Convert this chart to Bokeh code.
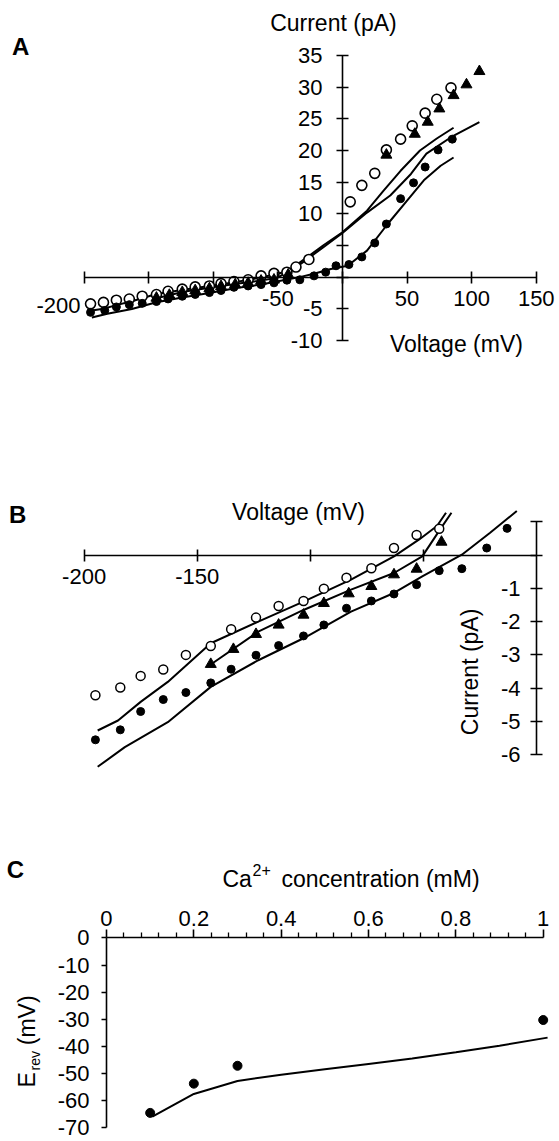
from bokeh.plotting import figure
from bokeh.models import LinearAxis, FixedTicker, Range1d, Label
from bokeh.layouts import column
from bokeh.embed import file_html
from bokeh.resources import INLINE
import math

FONT = "Liberation Sans"

# ---------------- Panel A data ----------------
a_open_v = [-195, -185, -175, -165, -155, -144, -135, -124, -114, -103, -94, -84, -73, -63, -53, -43, -36, -26,
            6, 15, 25, 34, 45, 54, 64, 73, 84]
a_open_i = [-4.21, -3.98, -3.63, -3.44, -3.00, -2.73, -2.23, -1.88, -1.53, -1.38, -1.01, -0.68, -0.40, 0.21, 0.60, 0.79, 1.6, 2.8,
            11.9, 14.5, 16.4, 20.1, 21.8, 23.9, 25.9, 28.1, 29.9]
a_tri_v = [-144, -134, -124, -114, -103, -94, -83, -73, -63, -53, -42, 34, 56, 66, 75, 86, 96, 106]
a_tri_i = [-3.28, -2.83, -2.38, -2.10, -1.80, -1.45, -1.16, -0.94, -0.59, -0.42, 0.39, 19.3, 22.6, 24.5, 26.6, 28.7, 30.4, 32.5]
a_fill_v = [-195, -184, -175, -165, -155, -144, -135, -124, -114, -103, -94, -84, -73, -63, -53, -43, -33, -22, -13,
            -5, 5, 15, 25, 34, 45, 55, 64, 74, 85]
a_fill_i = [-5.55, -5.25, -4.70, -4.34, -4.13, -3.84, -3.43, -3.01, -2.72, -2.43, -2.10, -1.60, -1.38, -1.17, -0.89, -0.47, -0.41, 0.21, 0.80,
            1.8, 2.0, 3.2, 5.4, 8.4, 12.4, 14.9, 17.4, 20.1, 21.8]
a_l1_v = [-194, -185, -175, -163, -144, -123, -103, -82, -63, -52, -44, -40, -27, -15, 0, 19, 32, 45, 60, 73, 86]
a_l1_i = [-5.27, -4.97, -4.41, -3.81, -2.65, -2.00, -1.40, -0.74, -0.04, 0.46, 0.87, 1.27, 3.2, 5.0, 7.1, 10.5, 13.7, 16.8, 20.0, 21.9, 23.6]
a_l2_v = [-144, -123, -103, -82, -63, -50, -43, -38, -27, -15, 0, 19, 37, 53, 65, 84, 106]
a_l2_i = [-3.31, -2.30, -1.65, -1.04, -0.54, -0.04, 0.77, 1.27, 2.9, 4.7, 7.0, 10.2, 12.9, 16.3, 19.5, 22.1, 24.5]
a_l3_v = [-194, -182, -163, -144, -123, -103, -82, -63, -50, -33, -20, -9, 4, 19, 35, 50, 63, 76, 86]
a_l3_i = [-6.36, -5.77, -5.02, -3.96, -3.16, -2.50, -1.70, -1.14, -0.64, 0.01, 0.67, 1.3, 1.8, 4.2, 8.4, 12.1, 15.3, 17.6, 18.9]

a_x_ticks = [-200, -150, -100, -50, 0, 50, 100, 150]
a_x_labels = ["", "", "", "-50", "", "50", "100", "150"]
a_y_ticks = [-10, -5, 0, 5, 10, 15, 20, 25, 30, 35]
a_y_labels = ["-10", "-5", "", "", "10", "15", "20", "25", "30", "35"]

# ---------------- Panel B data ----------------
b_open_v = [-195, -184, -175, -165, -155, -144, -135, -124, -114, -103, -94, -84, -73, -63, -53, -43]
b_open_i = [-4.21, -3.98, -3.63, -3.44, -3.00, -2.73, -2.23, -1.88, -1.53, -1.38, -1.01, -0.68, -0.40, 0.21, 0.60, 0.79]
b_tri_v = [-144, -134, -124, -114, -103, -94, -83, -73, -63, -53, -42]
b_tri_i = [-3.28, -2.83, -2.38, -2.10, -1.80, -1.45, -1.16, -0.94, -0.59, -0.42, 0.39]
b_fill_v = [-195, -184, -175, -165, -155, -144, -135, -124, -114, -103, -94, -84, -73, -63, -53, -43, -33, -22, -13]
b_fill_i = [-5.55, -5.25, -4.70, -4.34, -4.13, -3.84, -3.43, -3.01, -2.72, -2.43, -2.10, -1.60, -1.38, -1.17, -0.89, -0.47, -0.41, 0.21, 0.80]
b_l1_v = [-194, -185, -175, -163, -144, -123, -103, -82, -63, -52, -44, -40]
b_l1_i = [-5.27, -4.97, -4.41, -3.81, -2.65, -2.00, -1.40, -0.74, -0.04, 0.46, 0.87, 1.27]
b_l2_v = [-144.5, -123, -103, -82, -63, -50.5, -42.6, -37.6]
b_l2_i = [-3.31, -2.30, -1.65, -1.04, -0.54, -0.04, 0.77, 1.27]
b_l3_v = [-194, -182, -163, -144, -123, -103, -82, -63, -50.5, -33, -20.5, -8.7]
b_l3_i = [-6.36, -5.77, -5.02, -3.96, -3.16, -2.50, -1.70, -1.14, -0.64, 0.01, 0.67, 1.32]

b_x_ticks = [-200, -150, -100, -50]
b_x_labels = ["-200", "-150", "", ""]
b_y_ticks = [-6, -5, -4, -3, -2, -1, 0, 1]
b_y_labels = ["-6", "-5", "-4", "-3", "-2", "-1", "", ""]

# ---------------- Panel C data ----------------
c_conc = [0.1, 0.2, 0.3, 1.0]
c_erev = [-64.6, -53.8, -47.2, -30.3]
c_fit_conc = [0.105, 0.2, 0.3, 0.4, 0.5, 0.6, 0.7, 0.8, 0.9, 1.01]
c_fit_erev = [-66.0, -57.6, -52.8, -50.5, -48.5, -46.5, -44.5, -42.2, -39.8, -36.8]

c_x_ticks = [0, 0.2, 0.4, 0.6, 0.8, 1.0]
c_x_labels = ["0", "0.2", "0.4", "0.6", "0.8", "1"]
c_x_minor = [0.04, 0.08, 0.12, 0.16, 0.24, 0.28, 0.32, 0.36, 0.44, 0.48, 0.52, 0.56,
             0.64, 0.68, 0.72, 0.76, 0.84, 0.88, 0.92, 0.96]
c_y_ticks = [-70, -60, -50, -40, -30, -20, -10, 0]
c_y_labels = ["-70", "-60", "-50", "-40", "-30", "-20", "-10", "0"]


def overrides(ticks, labels):
    d = {}
    for t, l in zip(ticks, labels):
        t = float(t)
        d[t] = l
        s = str(int(t)) if t.is_integer() else repr(t)
        d[s] = l
    return d


def make_fig(h, xr, yr):
    p = figure(width=559, height=h, x_range=Range1d(*xr), y_range=Range1d(*yr),
               output_backend="svg", toolbar_location=None, x_axis_type=None, y_axis_type=None,
               min_border=0, outline_line_color=None)
    p.background_fill_color = "white"
    p.border_fill_color = "white"
    return p


def make_axis(ticks, labels, bounds, tin, tout, standoff, minor=None, minor_out=0):
    ax = LinearAxis(fixed_location=0,
                    ticker=FixedTicker(ticks=ticks, minor_ticks=minor or []),
                    bounds=bounds,
                    major_tick_in=tin, major_tick_out=tout,
                    minor_tick_in=0, minor_tick_out=minor_out,
                    major_label_standoff=standoff,
                    major_label_overrides=overrides(ticks, labels),
                    axis_line_width=1.6, axis_line_color="black",
                    major_tick_line_width=1.6, major_tick_line_color="black",
                    minor_tick_line_width=1.3, minor_tick_line_color="black",
                    major_label_text_font=FONT, major_label_text_font_size="22px",
                    major_label_text_color="black")
    return ax


def lab(p, x, y, text, size="23px", align="center", baseline="middle", angle=0.0, bold=False):
    p.add_layout(Label(x=x, y=y, text=text, text_font=FONT, text_font_size=size,
                       text_align=align, text_baseline=baseline, angle=angle,
                       text_font_style="bold" if bold else "normal", text_color="black"))


# ================= Panel A =================
pa = make_fig(400, (-264.7, 168.0), (-19.47, 43.69))
pa.add_layout(make_axis(a_x_ticks, a_x_labels, (-200, 150), 6, 6, 8), "below")
pa.add_layout(make_axis(a_y_ticks, a_y_labels, (-10, 35), 6, 6, 14), "left")
for v, i in ((a_l1_v, a_l1_i), (a_l2_v, a_l2_i), (a_l3_v, a_l3_i)):
    pa.line(v, i, line_color="black", line_width=2)
pa.scatter(a_open_v, a_open_i, marker="circle", size=10, fill_color="white", line_color="black", line_width=1.6)
pa.scatter(a_tri_v, a_tri_i, marker="triangle", size=11, fill_color="black", line_color="black")
pa.scatter(a_fill_v, a_fill_i, marker="circle", size=8, fill_color="black", line_color="black")
lab(pa, -249, 36.5, "A", size="24px", bold=True)
lab(pa, -7.0, 40.2, "Current (pA)")
lab(pa, 88.2, -10.47, "Voltage (mV)")
lab(pa, -202.8, -4.47, "-200", size="22px", align="right")

# ================= Panel B =================
pb = make_fig(400, (-236.96, 10.17), (-7.372, 4.640))
pb.add_layout(make_axis(b_x_ticks, b_x_labels, (-200, 0), 6, 6, 8), "below")
pb.add_layout(make_axis(b_y_ticks, b_y_labels, (-6, 1), 6, 6, 10), "left")
for v, i in ((b_l1_v, b_l1_i), (b_l2_v, b_l2_i), (b_l3_v, b_l3_i)):
    pb.line(v, i, line_color="black", line_width=2)
pb.scatter(b_open_v, b_open_i, marker="circle", size=9, fill_color="white", line_color="black", line_width=1.5)
pb.scatter(b_tri_v, b_tri_i, marker="triangle", size=11, fill_color="black", line_color="black")
pb.scatter(b_fill_v, b_fill_i, marker="circle", size=8, fill_color="black", line_color="black")
lab(pb, -229.4, 1.216, "B", size="24px", bold=True)
lab(pb, -105.2, 1.285, "Voltage (mV)")
lab(pb, -29.2, -3.51, "Current (pA)", angle=math.pi / 2)

# ================= Panel C =================
pc = make_fig(341, (-0.2427, 1.0373), (-75.17, 50.79))
pc.add_layout(make_axis(c_x_ticks, c_x_labels, (0, 1), 0, 8, 4, minor=c_x_minor, minor_out=5), "above")
pc.add_layout(make_axis(c_y_ticks, c_y_labels, (-70, 0), 0, 5, 12), "left")
pc.line(c_fit_conc, c_fit_erev, line_color="black", line_width=2)
pc.scatter(c_conc, c_erev, marker="circle", size=9, fill_color="black", line_color="black")
lab(pc, -0.2084, 25.3, "C", size="24px", bold=True)
lab(pc, 0.2656, 21.87, "Ca", align="left")
lab(pc, 0.3343, 25.2, "2+", size="16px", align="left")
lab(pc, 0.4007, 21.87, "concentration (mM)", align="left")
lab(pc, -0.1809, -55.2, "E", align="left", angle=math.pi / 2)
lab(pc, -0.1637, -48.9, "rev", size="14px", align="left", angle=math.pi / 2)
lab(pc, -0.1809, -39.6, "(mV)", align="left", angle=math.pi / 2)

layout = column(pa, pb, pc, spacing=0)
open("out.html", "w").write(file_html(layout, INLINE))
